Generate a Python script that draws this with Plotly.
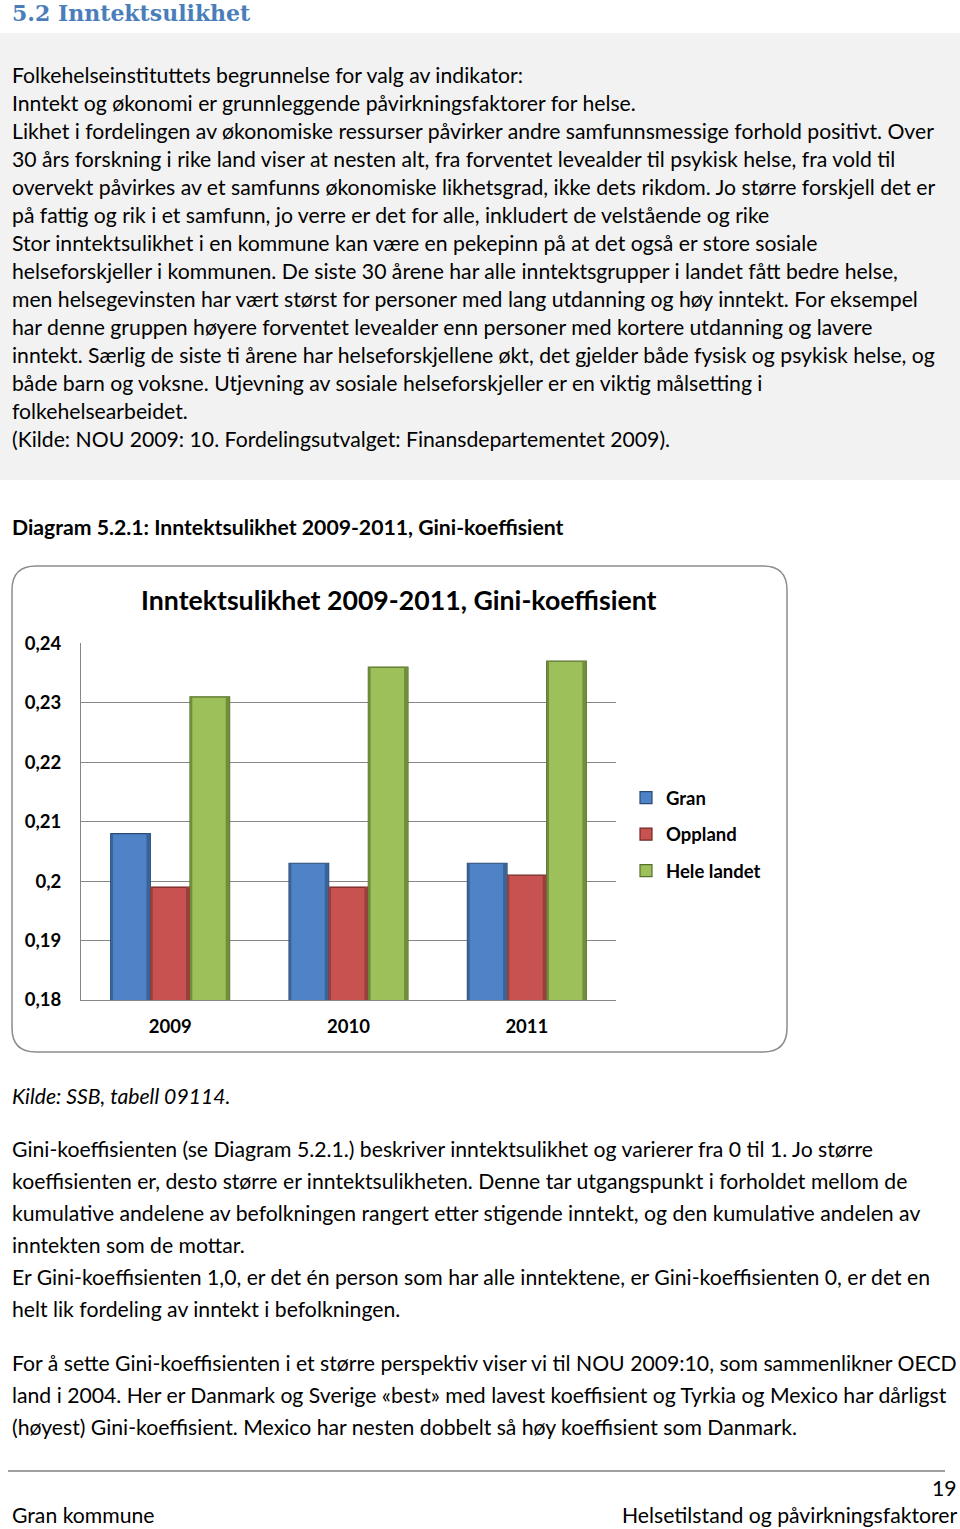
import plotly.graph_objects as go

W, H = 960, 1529

# ---- data ----
years = ["2009", "2010", "2011"]
gran = [0.208, 0.203, 0.203]
oppland = [0.199, 0.199, 0.201]
hele_landet = [0.231, 0.236, 0.237]
series_names = ["Gran", "Oppland", "Hele landet"]
y_tick_values = [0.18, 0.19, 0.20, 0.21, 0.22, 0.23, 0.24]
y_tick_labels = ["0,18", "0,19", "0,2", "0,21", "0,22", "0,23", "0,24"]

heading = "5.2 Inntektsulikhet"
box_lines = [
    "Folkehelseinstituttets begrunnelse for valg av indikator:",
    "Inntekt og økonomi er grunnleggende påvirkningsfaktorer for helse.",
    "Likhet i fordelingen av økonomiske ressurser påvirker andre samfunnsmessige forhold positivt. Over",
    "30 års forskning i rike land viser at nesten alt, fra forventet levealder til psykisk helse, fra vold til",
    "overvekt påvirkes av et samfunns økonomiske likhetsgrad, ikke dets rikdom. Jo større forskjell det er",
    "på fattig og rik i et samfunn, jo verre er det for alle, inkludert de velstående og rike",
    "Stor inntektsulikhet i en kommune kan være en pekepinn på at det også er store sosiale",
    "helseforskjeller i kommunen. De siste 30 årene har alle inntektsgrupper i landet fått bedre helse,",
    "men helsegevinsten har vært størst for personer med lang utdanning og høy inntekt. For eksempel",
    "har denne gruppen høyere forventet levealder enn personer med kortere utdanning og lavere",
    "inntekt. Særlig de siste ti årene har helseforskjellene økt, det gjelder både fysisk og psykisk helse, og",
    "både barn og voksne. Utjevning av sosiale helseforskjeller er en viktig målsetting i",
    "folkehelsearbeidet.",
    "(Kilde: NOU 2009: 10. Fordelingsutvalget: Finansdepartementet 2009).",
]
diagram_caption = "Diagram 5.2.1: Inntektsulikhet 2009-2011, Gini-koeffisient"
chart_title = "Inntektsulikhet 2009-2011, Gini-koeffisient"
source_line = "Kilde: SSB, tabell 09114."
para_lines = [
    (1149, "Gini-koeffisienten (se Diagram 5.2.1.) beskriver inntektsulikhet og varierer fra 0 til 1. Jo større"),
    (1181, "koeffisienten er, desto større er inntektsulikheten. Denne tar utgangspunkt i forholdet mellom de"),
    (1213, "kumulative andelene av befolkningen rangert etter stigende inntekt, og den kumulative andelen av"),
    (1245, "inntekten som de mottar."),
    (1277, "Er Gini-koeffisienten 1,0, er det én person som har alle inntektene, er Gini-koeffisienten 0, er det en"),
    (1309, "helt lik fordeling av inntekt i befolkningen."),
    (1363, "For å sette Gini-koeffisienten i et større perspektiv viser vi til NOU 2009:10, som sammenlikner OECD"),
    (1395, "land i 2004. Her er Danmark og Sverige «best» med lavest koeffisient og Tyrkia og Mexico har dårligst"),
    (1427, "(høyest) Gini-koeffisient. Mexico har nesten dobbelt så høy koeffisient som Danmark."),
]
page_number = "19"
footer_left = "Gran kommune"
footer_right = "Helsetilstand og påvirkningsfaktorer"

# ---- style ----
FONT = "Lato"
BODY = 21.2
base_colors = ["#3A6399", "#97403D", "#718F3B"]
face_colors = ["#4F83C8", "#C8524F", "#9EC05B"]
edges = ["#2A4A73", "#6E2826", "#56702A"]
BAR_W = 0.2223
OFFSETS = [-1.5 * BAR_W, -0.5 * BAR_W, 0.5 * BAR_W]
INSET = 0.022


def px(x):
    return x / W


def py(y):
    return 1 - y / H


fig = go.Figure()
for name, vals, bc, e, off in zip(series_names, [gran, oppland, hele_landet],
                                  base_colors, edges, OFFSETS):
    fig.add_trace(go.Bar(
        x=years, y=vals, name=f"<b>{name}</b>", legendgroup=name,
        width=BAR_W, offset=off,
        marker=dict(color=face_colors[series_names.index(name)], line=dict(color=e, width=1.2)),
    ))
for name, vals, bc, fc, off in zip(series_names, [gran, oppland, hele_landet],
                                   base_colors, face_colors, OFFSETS):
    # darker side edges to mimic the bevelled 3D bar style
    fig.add_trace(go.Bar(
        x=years, y=vals, name=name, legendgroup=name, showlegend=False,
        width=INSET, offset=off + BAR_W - INSET, hoverinfo="skip",
        marker=dict(color=bc, line=dict(width=0)),
    ))
    fig.add_trace(go.Bar(
        x=years, y=vals, name=name, legendgroup=name, showlegend=False,
        width=INSET * 0.6, offset=off, hoverinfo="skip",
        marker=dict(color=bc, line=dict(width=0)),
    ))

ann = []


def text(x, y, t, size=BODY, anchor="left", family=FONT, color="#000000"):
    ann.append(dict(x=px(x), y=py(y), xref="paper", yref="paper", text=t,
                    xanchor=anchor, yanchor="middle", showarrow=False,
                    font=dict(family=family, size=size, color=color)))


text(10, 13, f"<b>{heading}</b>", size=22, family="DejaVu Serif", color="#4A7EBB")
for i, t in enumerate(box_lines):
    text(10, 75 + 28 * i, t)
text(10, 527, f"<b>{diagram_caption}</b>", size=21.2)
text(399, 600, f"<b>{chart_title}</b>", size=26.7, anchor="center")
text(10, 1096, f"<i>{source_line}</i>")
for yy, t in para_lines:
    text(10, yy, t)
text(959, 1488, page_number, anchor="right")
text(10, 1515, footer_left)
text(959, 1515, footer_right, anchor="right")

# rounded chart border
x0, x1, y0, y1, r = 12, 787, 566, 1052, 24
rx, ry = r / W, r / H
X0, X1, Y0, Y1 = px(x0), px(x1), py(y0), py(y1)
path = (f"M {X0+rx},{Y0} L {X1-rx},{Y0} Q {X1},{Y0} {X1},{Y0-ry} L {X1},{Y1+ry} "
        f"Q {X1},{Y1} {X1-rx},{Y1} L {X0+rx},{Y1} Q {X0},{Y1} {X0},{Y1+ry} L {X0},{Y0-ry} "
        f"Q {X0},{Y0} {X0+rx},{Y0} Z")

shapes = [
    dict(type="rect", xref="paper", yref="paper", x0=0, x1=1, y0=py(480), y1=py(33),
         fillcolor="#F2F2F2", line=dict(width=0), layer="below"),
    dict(type="path", xref="paper", yref="paper", path=path,
         line=dict(color="#8C8C8C", width=1.5), fillcolor="rgba(0,0,0,0)", layer="below"),
    dict(type="line", xref="paper", yref="paper", x0=px(8), x1=px(945), y0=py(1471), y1=py(1471),
         line=dict(color="#404040", width=1)),
]

fig.update_layout(
    width=W, height=H,
    margin=dict(l=0, r=0, t=0, b=0, pad=0, autoexpand=False),
    paper_bgcolor="white", plot_bgcolor="rgba(0,0,0,0)",
    barmode="group",
    annotations=ann, shapes=shapes,
    showlegend=True,
    legend=dict(x=px(626), y=py(779), xanchor="left", yanchor="top",
                font=dict(family=FONT, size=18.5, color="#000000"),
                tracegroupgap=9.5, bgcolor="rgba(0,0,0,0)"),
    xaxis=dict(domain=[px(81), px(616)], type="category", showgrid=False, automargin=False,
               showline=True, linecolor="#868686", linewidth=1, ticks="",
               tickfont=dict(family=FONT, size=18.5, color="#000000"),
               ticklabelstandoff=10, tickprefix="<b>", ticksuffix="</b>"),
    yaxis=dict(domain=[py(1000), py(643.3)], range=[0.18, 0.24], automargin=False,
               tickvals=y_tick_values, ticktext=[f"<b>{t}</b>" for t in y_tick_labels],
               showgrid=True, gridcolor="#868686", gridwidth=1,
               showline=True, linecolor="#868686", linewidth=1, zeroline=False,
               tickfont=dict(family=FONT, size=18.5, color="#000000"),
               ticklabelstandoff=15),
)

css = ("var s=[document.documentElement,document.body];"
       "s.forEach(function(e){e.style.margin='0';e.style.padding='0';e.style.overflow='hidden';});")

fig.write_html("out.html", config={"displayModeBar": False}, post_script=css)
